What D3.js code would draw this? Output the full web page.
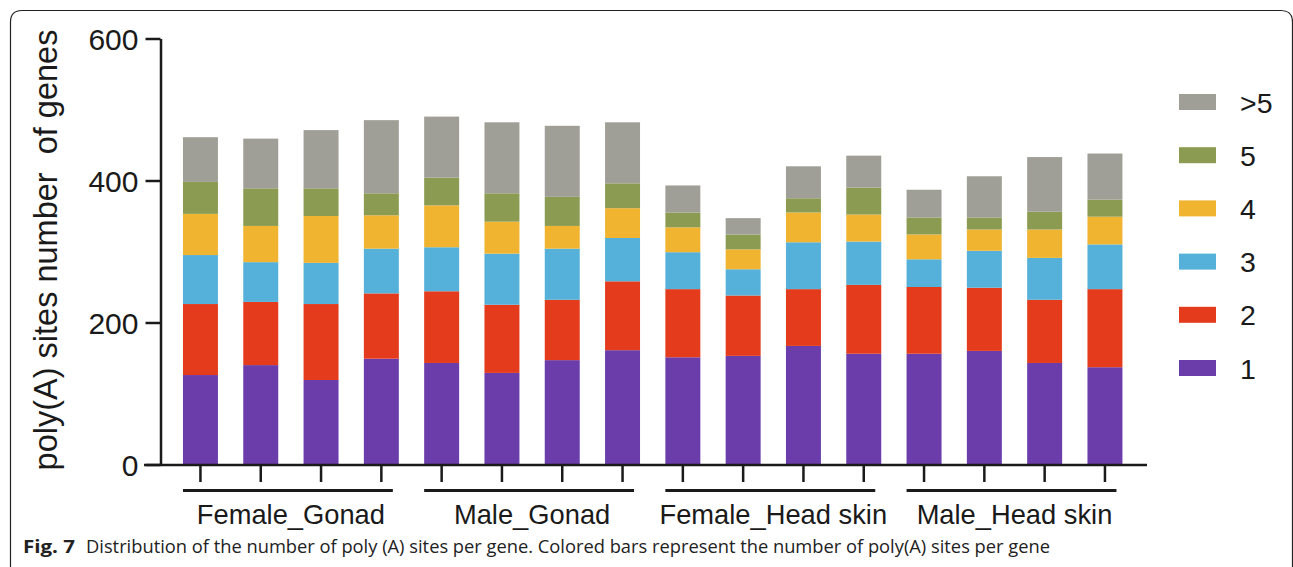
<!DOCTYPE html>
<html>
<head>
<meta charset="utf-8">
<script src="https://cdn.jsdelivr.net/npm/d3@7"></script>
<style>
  html, body { margin: 0; padding: 0; background: #fff; }
  svg { display: block; }
</style>
</head>
<body>
<svg id="chart" width="1293" height="567"></svg>
<script>
// Tissue groups, four replicates each
const groups = ["Female_Gonad", "Male_Gonad", "Female_Head skin", "Male_Head skin"];
const samples = ["FG1","FG2","FG3","FG4","MG1","MG2","MG3","MG4",
                 "FH1","FH2","FH3","FH4","MH1","MH2","MH3","MH4"];

// Number of genes with 1, 2, 3, 4, 5 and >5 poly(A) sites, per sample
const sites1 = [126,140,119,149,143,129,147,161,151,153,167,156,156,160,143,137];
const sites2 = [100, 89,107, 92,101, 96, 85, 97, 96, 85, 80, 97, 94, 89, 89,110];
const sites3 = [ 69, 56, 58, 63, 62, 72, 72, 61, 52, 37, 66, 61, 39, 52, 59, 63];
const sites4 = [ 58, 51, 66, 47, 59, 45, 32, 42, 35, 28, 42, 38, 35, 30, 40, 39];
const sites5 = [ 45, 53, 39, 31, 39, 40, 41, 35, 21, 21, 20, 38, 24, 17, 25, 24];
const sitesMore = [63, 70, 82,103, 86,100,100, 86, 38, 23, 45, 45, 39, 58, 77, 65];

const seriesKeys = ["1", "2", "3", "4", "5", ">5"];
const seriesValues = [sites1, sites2, sites3, sites4, sites5, sitesMore];
const seriesColors = ["#6b3dab", "#e43b1c", "#55b1d9", "#f0b431", "#8b9c52", "#a09f97"];

const yTicks = [0, 200, 400, 600];
const yTitle = "poly(A) sites number\u00a0\u00a0of genes";
const captionLabel = "Fig. 7";
const caption = "Distribution of the number of poly (A) sites per gene. Colored bars represent the number of poly(A) sites per gene";

const table = samples.map((s, i) => {
  const row = { sample: s };
  seriesKeys.forEach((k, j) => { row[k] = seriesValues[j][i]; });
  return row;
});

const svg = d3.select("#chart");
const font = "'Liberation Sans', Arial, sans-serif";

// Figure frame with rounded top corners
svg.append("path")
  .attr("d", "M10.5,570 L10.5,22 Q10.5,10.5 22,10.5 L1281,10.5 Q1292.5,10.5 1292.5,22 L1292.5,570")
  .attr("fill", "none").attr("stroke", "#222").attr("stroke-width", 1.2);

const y = d3.scaleLinear().domain([0, 600]).range([464.5, 38.5]);
const x = d3.scaleBand().domain(samples).range([170.3, 1135.1])
  .paddingInner(0.42).paddingOuter(0.21);

const stack = d3.stack().keys(seriesKeys)(table);

// Stacked bars
svg.append("g").selectAll("g").data(stack).join("g")
  .attr("fill", (d, i) => seriesColors[i])
  .selectAll("rect").data(d => d).join("rect")
  .attr("x", d => x(d.data.sample))
  .attr("width", x.bandwidth())
  .attr("y", d => y(d[1]))
  .attr("height", d => y(d[0]) - y(d[1]));

// Y axis
const yAxis = svg.append("g").attr("transform", "translate(160.5,0)")
  .call(d3.axisLeft(y).tickValues(yTicks).tickSize(15).tickSizeOuter(0).tickPadding(7));
yAxis.select(".domain").attr("stroke", "#1a1a1a").attr("stroke-width", 2.5);
yAxis.selectAll(".tick line").attr("stroke", "#1a1a1a").attr("stroke-width", 2.5);
yAxis.selectAll(".tick text").attr("font-family", font).attr("font-size", 30)
  .attr("fill", "#1a1a1a").attr("dy", "0.35em");

// X axis baseline with ticks under each bar
svg.append("line").attr("x1", 144).attr("x2", 1147).attr("y1", 465).attr("y2", 465)
  .attr("stroke", "#1a1a1a").attr("stroke-width", 2.5);
const xAxis = svg.append("g").attr("transform", "translate(0,465)")
  .call(d3.axisBottom(x).tickSize(17).tickSizeOuter(0).tickFormat(""));
xAxis.select(".domain").remove();
xAxis.selectAll(".tick line").attr("stroke", "#1a1a1a").attr("stroke-width", 2.5);

// Group brackets and labels
groups.forEach((g, gi) => {
  const first = samples[gi * 4], last = samples[gi * 4 + 3];
  const x0 = x(first), x1 = x(last) + x.bandwidth();
  svg.append("line").attr("x1", x0).attr("x2", x1 - 6).attr("y1", 490.5).attr("y2", 490.5)
    .attr("stroke", "#1a1a1a").attr("stroke-width", 3);
  svg.append("text").attr("x", (x0 + x1) / 2).attr("y", 524)
    .attr("text-anchor", "middle").attr("font-family", font).attr("font-size", 27.3)
    .attr("fill", "#1a1a1a").text(g);
});

// Y axis title
svg.append("text")
  .attr("transform", "translate(57,250) rotate(-90)")
  .attr("text-anchor", "middle").attr("font-family", font).attr("font-size", 32.5)
  .attr("fill", "#1a1a1a").text(yTitle);

// Legend, top entry is the highest stack layer
const legendKeys = seriesKeys.slice().reverse();
const legendColors = seriesColors.slice().reverse();
const legend = svg.append("g");
legendKeys.forEach((k, i) => {
  const cy = 102 + i * 53.2;
  legend.append("rect").attr("x", 1179).attr("y", cy - 8).attr("width", 37).attr("height", 16)
    .attr("fill", legendColors[i]);
  legend.append("text").attr("x", 1240).attr("y", cy + 10.5)
    .attr("font-family", font).attr("font-size", 28.5).attr("fill", "#1a1a1a").text(k);
});

// Caption
svg.append("text").attr("x", 23).attr("y", 553)
  .attr("font-family", "'Open Sans', sans-serif").attr("font-size", 18.5)
  .attr("font-weight", "bold").attr("fill", "#222")
  .attr("textLength", 52).attr("lengthAdjust", "spacingAndGlyphs").text(captionLabel);
svg.append("text").attr("x", 86).attr("y", 553)
  .attr("font-family", "'Open Sans', sans-serif").attr("font-size", 18.5).attr("fill", "#222")
  .attr("textLength", 964).attr("lengthAdjust", "spacingAndGlyphs").text(caption);
</script>
</body>
</html>
